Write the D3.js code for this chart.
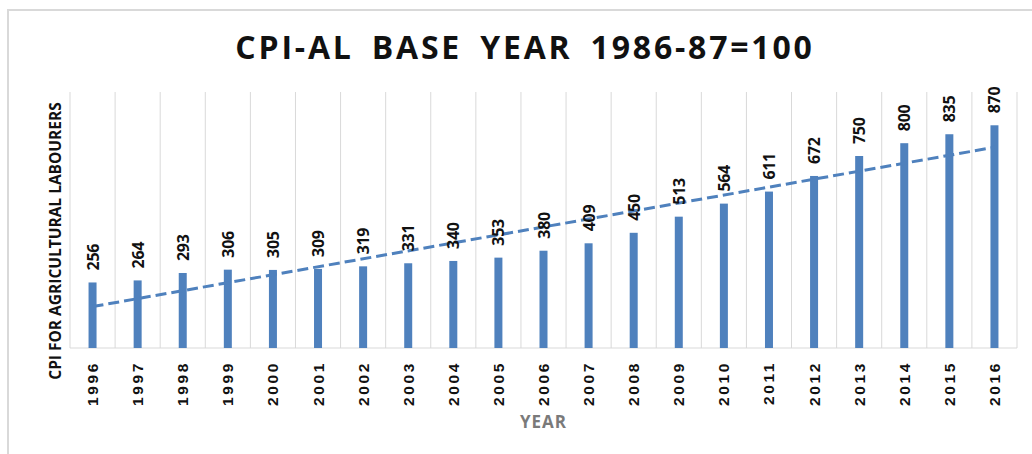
<!DOCTYPE html>
<html lang="en">
<head>
    <meta charset="UTF-8">
    <title>CPI-AL Base Year 1986-87=100</title>
    <style>
        body { margin: 0; background: #fff; }
        svg { display: block; font-family: "Open Sans", sans-serif; }
        .grid line { stroke: #d9d9d9; stroke-width: 1px; }
        .bar { fill: #4f81bd; }
        .trend { fill: none; stroke: #4f81bd; stroke-width: 3px; stroke-dasharray: 11 5; }
        .val { font-size: 16px; font-weight: 700; fill: #111; letter-spacing: -0.3px; }
        .tick text { font-size: 15.5px; font-weight: 700; fill: #111; letter-spacing: 2.6px; }
    </style>
    <script src="https://d3js.org/d3.v7.min.js"></script>
</head>
<body>
    <svg width="1032" height="454"></svg>
    <script>
        const width = 1032;
        const height = 454;

        // chart data
        const years = ["1996", "1997", "1998", "1999", "2000", "2001", "2002", "2003", "2004", "2005", "2006",
                       "2007", "2008", "2009", "2010", "2011", "2012", "2013", "2014", "2015", "2016"];
        const cpiValues = [256, 264, 293, 306, 305, 309, 319, 331, 340, 353, 380,
                           409, 450, 513, 564, 611, 672, 750, 800, 835, 870];
        const yDomain = [0, 1000];

        const margin = { top: 92, right: 15, bottom: 106, left: 70 };
        const plotW = 1017 - margin.left;
        const plotH = 348 - margin.top;

        const svg = d3.select("svg");

        // outer chart frame
        svg.append("rect")
            .attr("x", 8).attr("y", 10)
            .attr("width", 1040).attr("height", 470)
            .attr("fill", "none")
            .attr("stroke", "#d9d9d9")
            .attr("stroke-width", 2);

        // title
        svg.append("text")
            .attr("x", 525).attr("y", 59)
            .attr("text-anchor", "middle")
            .style("font-size", "32px")
            .style("font-weight", 700)
            .style("letter-spacing", "2.8px")
            .style("word-spacing", "7px")
            .attr("fill", "#111")
            .text("CPI-AL BASE YEAR 1986-87=100");

        const g = svg.append("g")
            .attr("transform", `translate(${margin.left},${margin.top})`);

        const x = d3.scaleBand().domain(years).range([0, plotW]);
        const y = d3.scaleLinear().domain(yDomain).range([plotH, 0]);

        // vertical gridlines between categories
        g.append("g").attr("class", "grid")
            .selectAll("line")
            .data(d3.range(years.length + 1))
            .enter().append("line")
            .attr("x1", i => i * x.step()).attr("x2", i => i * x.step())
            .attr("y1", 0).attr("y2", plotH);

        // baseline
        g.append("line")
            .attr("x1", 0).attr("x2", plotW)
            .attr("y1", plotH).attr("y2", plotH)
            .attr("stroke", "#d9d9d9");

        // bars
        const barW = 8;
        g.selectAll(".bar")
            .data(cpiValues)
            .enter().append("rect")
            .attr("class", "bar")
            .attr("x", (d, i) => x(years[i]) + x.bandwidth() / 2 - barW / 2)
            .attr("y", d => y(d))
            .attr("width", barW)
            .attr("height", d => plotH - y(d));

        // linear trendline (least squares, like Excel)
        const n = cpiValues.length;
        const mx = d3.mean(d3.range(n));
        const my = d3.mean(cpiValues);
        const slope = d3.sum(cpiValues, (v, i) => (i - mx) * (v - my)) /
                      d3.sum(d3.range(n), i => (i - mx) * (i - mx));
        const icpt = my - slope * mx;
        const trend = [0, n - 1].map(i => [x(years[i]) + x.bandwidth() / 2, y(icpt + slope * i)]);
        g.append("path")
            .attr("class", "trend")
            .attr("d", d3.line()(trend));

        // value labels
        g.selectAll(".val")
            .data(cpiValues)
            .enter().append("text")
            .attr("class", "val")
            .attr("transform", (d, i) =>
                `translate(${x(years[i]) + x.bandwidth() / 2 + 6},${y(d) - 12}) rotate(-90)`)
            .text(d => d);

        // x axis labels
        const xAxis = g.append("g")
            .attr("transform", `translate(0,${plotH})`)
            .call(d3.axisBottom(x).tickSize(0).tickPadding(0));
        xAxis.select(".domain").remove();
        xAxis.selectAll(".tick text")
            .attr("text-anchor", "end")
            .attr("transform", "translate(5.5,13) rotate(-90)")
            .attr("x", 0).attr("y", 0).attr("dy", 0);

        // axis titles
        svg.append("text")
            .attr("transform", `translate(61,241) rotate(-90)`)
            .attr("text-anchor", "middle")
            .style("font-size", "15.5px")
            .style("font-weight", 700)
            .attr("fill", "#111")
            .text("CPI FOR AGRICULTURAL LABOURERS");

        svg.append("text")
            .attr("x", margin.left + plotW / 2).attr("y", 428)
            .attr("text-anchor", "middle")
            .style("font-size", "17px")
            .style("font-weight", 700)
            .style("letter-spacing", "1px")
            .attr("fill", "#7a7a7a")
            .text("YEAR");
    </script>
</body>
</html>
